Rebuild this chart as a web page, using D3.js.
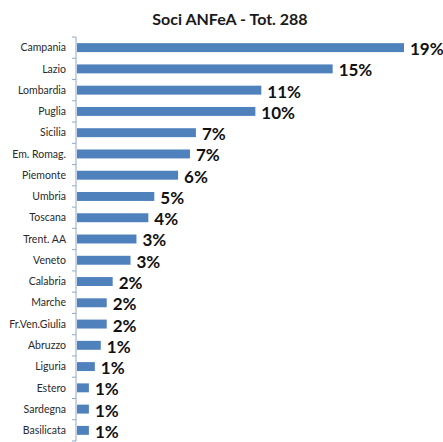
<!DOCTYPE html>
<html>
<head>
<meta charset="utf-8">
<script src="https://cdn.jsdelivr.net/npm/d3@7"></script>
<style>
  html, body { margin: 0; padding: 0; background: #ffffff; }
  svg { display: block; }
</style>
</head>
<body>
<svg id="chart" width="443" height="442"></svg>
<script>
const title = "Soci ANFeA - Tot. 288";
const categories = ["Campania","Lazio","Lombardia","Puglia","Sicilia","Em. Romag.","Piemonte","Umbria","Toscana","Trent. AA","Veneto","Calabria","Marche","Fr.Ven.Giulia","Abruzzo","Liguria","Estero","Sardegna","Basilicata"];
const counts = [55,43,31,30,20,19,17,13,12,10,9,6,5,5,4,3,2,2,2];
const labels = ["19%","15%","11%","10%","7%","7%","6%","5%","4%","3%","3%","2%","2%","2%","1%","1%","1%","1%","1%"];

const data = categories.map((c, i) => ({ cat: c, v: counts[i], lab: labels[i] }));

const svg = d3.select("#chart");
const axisX = 76;

const x = d3.scaleLinear().domain([0, d3.max(counts)]).range([axisX + 1, 404]);
const y = d3.scaleBand().domain(categories).range([37, 441]).paddingInner(0.58).paddingOuter(0.29);

svg.append("text")
  .attr("x", 230).attr("y", 25)
  .attr("text-anchor", "middle")
  .attr("font-family", "Lato, 'Open Sans', sans-serif")
  .attr("font-weight", "bold")
  .attr("font-size", 16)
  .attr("fill", "#1a1a1a")
  .text(title);

svg.selectAll("rect.bar").data(data).join("rect")
  .attr("class", "bar")
  .attr("x", x(0))
  .attr("y", d => y(d.cat))
  .attr("width", d => x(d.v) - x(0))
  .attr("height", y.bandwidth())
  .attr("fill", "#4F81BD");

// axis with ticks at band boundaries
const axisG = svg.append("g");
axisG.append("line")
  .attr("x1", axisX).attr("x2", axisX)
  .attr("y1", 37).attr("y2", 441)
  .attr("stroke", "#8fa8cc").attr("stroke-width", 1);
const bounds = d3.range(categories.length + 1).map(i => 37 + i * (404 / categories.length));
axisG.selectAll("line.tick").data(bounds).join("line")
  .attr("class", "tick")
  .attr("x1", axisX - 4).attr("x2", axisX)
  .attr("y1", d => d).attr("y2", d => d)
  .attr("stroke", "#8fa8cc").attr("stroke-width", 1);

svg.selectAll("text.cat").data(data).join("text")
  .attr("class", "cat")
  .attr("x", 66)
  .attr("y", d => y(d.cat) + y.bandwidth() / 2)
  .attr("dy", "0.35em")
  .attr("text-anchor", "end")
  .attr("font-family", "Lato, 'Open Sans', sans-serif")
  .attr("font-size", 10.5)
  .attr("fill", "#2a2a2a")
  .text(d => d.cat);

svg.selectAll("text.val").data(data).join("text")
  .attr("class", "val")
  .attr("x", d => x(d.v) + 6)
  .attr("y", d => y(d.cat) + y.bandwidth() / 2 + 1.5)
  .attr("dy", "0.35em")
  .attr("font-family", "Lato, 'Open Sans', sans-serif")
  .attr("font-weight", "bold")
  .attr("font-size", 17)
  .attr("fill", "#111")
  .text(d => d.lab);
</script>
</body>
</html>
